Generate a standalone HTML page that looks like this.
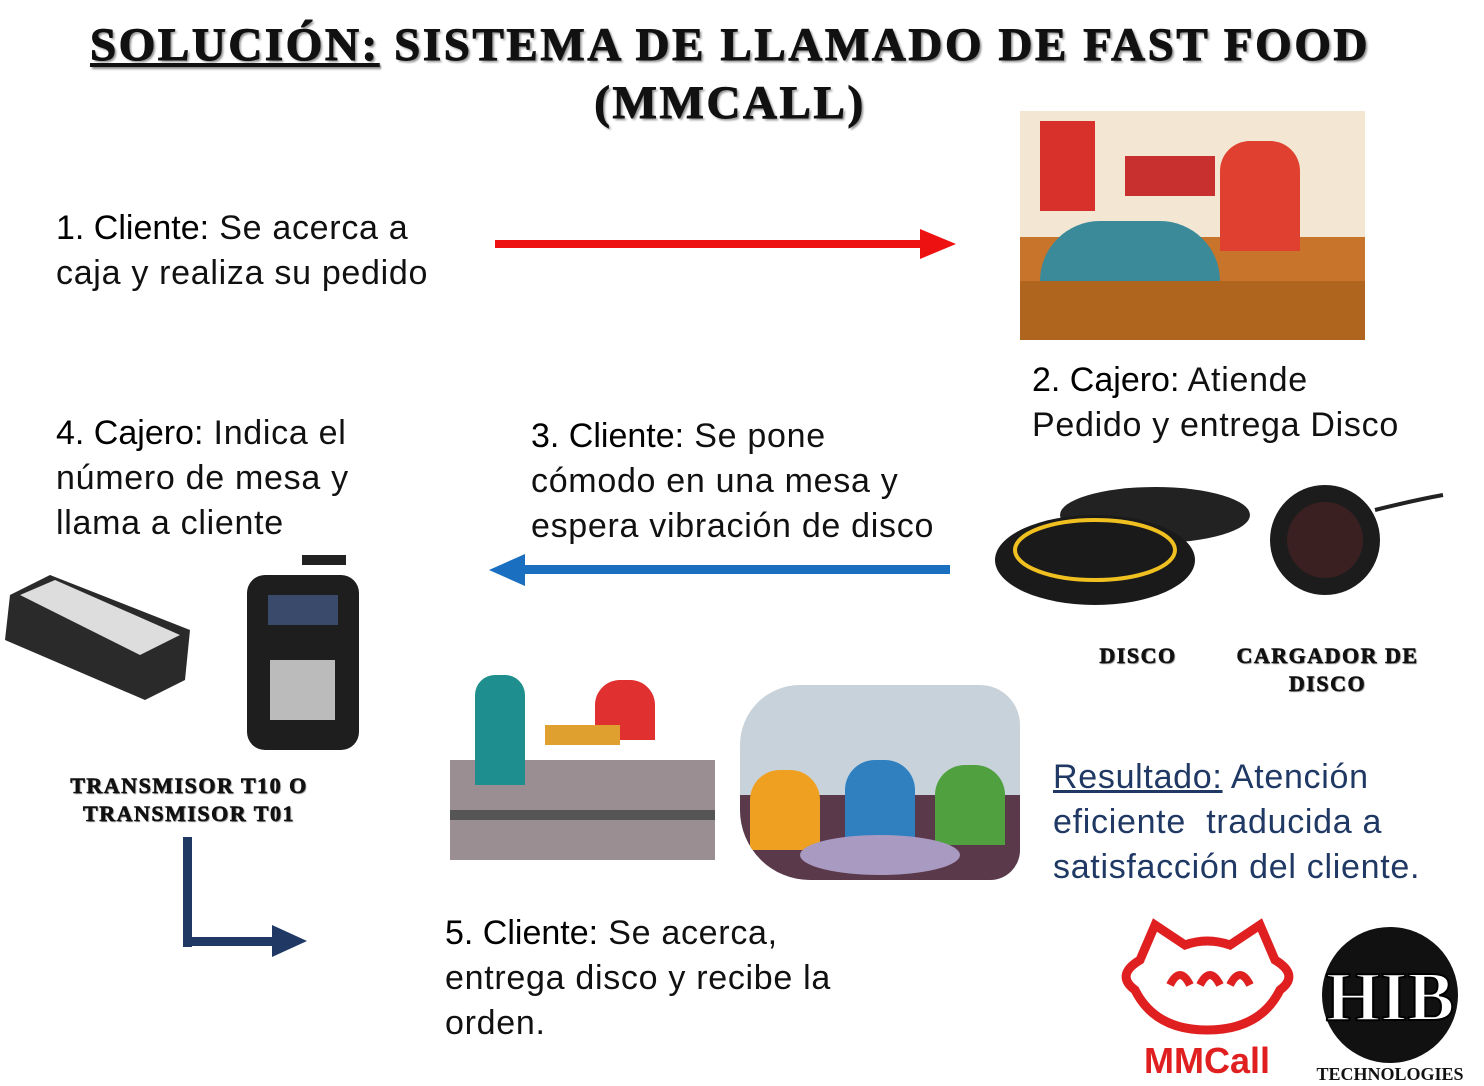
<!DOCTYPE html>
<html><head><meta charset="utf-8">
<style>
body{margin:0;width:1484px;height:1086px;background:#fff;position:relative;overflow:hidden;font-family:"Liberation Sans",sans-serif;}
.a{position:absolute;}
.title{font-family:"Liberation Serif",serif;font-weight:bold;font-size:47px;color:#111;text-shadow:2px 2px 2px #888;letter-spacing:2.6px;line-height:58px;text-align:center;-webkit-text-stroke:1px #111;}
.t{font-size:34px;letter-spacing:0.7px;color:#111;line-height:45px;white-space:nowrap;}
.t b{font-weight:normal;color:#000;letter-spacing:0;}
.lab{font-family:"Liberation Serif",serif;font-weight:bold;font-size:22px;letter-spacing:1.5px;color:#111;text-shadow:1px 1px 1px #777;text-align:center;line-height:28px;-webkit-text-stroke:0.6px #111;}
</style></head><body>
<div class="a title" style="left:30px;top:16px;width:1400px;"><span style="text-decoration:underline">SOLUCIÓN:</span> SISTEMA DE LLAMADO DE FAST FOOD<br>(MMCALL)</div>

<div class="a t" style="left:56px;top:206px;"><b>1. Cliente:</b> Se acerca a<br>caja y realiza su pedido</div>
<svg class="a" style="left:490px;top:225px" width="470" height="40"><rect x="5" y="15" width="425" height="8" fill="#ee1111"/><polygon points="430,4 466,19 430,34" fill="#ee1111"/></svg>

<div class="a" style="left:1020px;top:111px;width:345px;height:229px;background:linear-gradient(#f3e6d2 0 55%,#c8742a 55% 100%);overflow:hidden">
 <div class="a" style="left:20px;top:10px;width:55px;height:90px;background:#d8302a"></div>
 <div class="a" style="left:105px;top:45px;width:90px;height:40px;background:#c83030"></div>
 <div class="a" style="left:200px;top:30px;width:80px;height:110px;background:#e04030;border-radius:30px 30px 0 0"></div>
 <div class="a" style="left:20px;top:110px;width:180px;height:119px;background:#3a8a9a;border-radius:60px 60px 0 0"></div>
 <div class="a" style="left:0px;top:170px;width:345px;height:59px;background:#b0651f"></div>
</div>
<div class="a t" style="left:1032px;top:358px;"><b>2. Cajero:</b> Atiende<br>Pedido y entrega Disco</div>

<div class="a t" style="left:56px;top:411px;"><b>4. Cajero:</b> Indica el<br>número de mesa y<br>llama a cliente</div>
<div class="a t" style="left:531px;top:414px;"><b>3. Cliente:</b> Se pone<br>cómodo en una mesa y<br>espera vibración de disco</div>
<svg class="a" style="left:485px;top:550px" width="470" height="40"><polygon points="4,20 40,4 40,36" fill="#1a6fc0"/><rect x="38" y="15" width="427" height="9" fill="#1a6fc0"/></svg>

<svg class="a" style="left:995px;top:480px" width="450" height="140">
 <ellipse cx="160" cy="35" rx="95" ry="28" fill="#222"/>
 <ellipse cx="100" cy="80" rx="100" ry="45" fill="#1a1a1a"/>
 <ellipse cx="100" cy="70" rx="80" ry="30" fill="none" stroke="#f0c020" stroke-width="4"/>
 <ellipse cx="330" cy="60" rx="55" ry="55" fill="#1c1c1c"/>
 <ellipse cx="330" cy="60" rx="38" ry="38" fill="#3a2020"/>
 <path d="M380 30 Q420 20 448 15" stroke="#222" stroke-width="4" fill="none"/>
</svg>
<div class="a lab" style="left:1080px;top:642px;width:116px;">DISCO</div>
<div class="a lab" style="left:1220px;top:642px;width:215px;">CARGADOR DE<br>DISCO</div>

<svg class="a" style="left:0;top:550px" width="365" height="205">
 <polygon points="10,45 50,25 190,80 185,130 145,150 5,90" fill="#2a2a2a"/>
 <polygon points="20,45 55,30 180,85 140,105" fill="#ddd"/>
 <rect x="247" y="25" width="112" height="175" rx="18" fill="#1e1e1e"/>
 <rect x="268" y="45" width="70" height="30" fill="#3a4a6a"/>
 <rect x="270" y="110" width="65" height="60" fill="#bbb"/>
 <rect x="302" y="5" width="44" height="10" fill="#222"/>
</svg>
<div class="a lab" style="left:40px;top:772px;width:298px;">TRANSMISOR T10 O<br>TRANSMISOR T01</div>
<svg class="a" style="left:180px;top:835px" width="130" height="125"><rect x="3" y="2" width="9" height="110" fill="#1f3864"/><rect x="3" y="102" width="90" height="9" fill="#1f3864"/><polygon points="92,90 127,106 92,122" fill="#1f3864"/></svg>

<div class="a" style="left:445px;top:635px;width:275px;height:235px;background:#fff;">
 <div class="a" style="left:5px;top:125px;width:265px;height:100px;background:#9a8e92"></div>
 <div class="a" style="left:5px;top:175px;width:265px;height:10px;background:#555"></div>
 <div class="a" style="left:30px;top:40px;width:50px;height:110px;background:#1e8e8e;border-radius:20px 20px 0 0"></div>
 <div class="a" style="left:150px;top:45px;width:60px;height:60px;background:#e03030;border-radius:25px 25px 0 0"></div>
 <div class="a" style="left:100px;top:90px;width:75px;height:20px;background:#e0a030"></div>
</div>
<div class="a" style="left:740px;top:685px;width:280px;height:195px;background:#c8d2da;border-radius:60px 40px 30px 70px;overflow:hidden">
 <div class="a" style="left:0;top:110px;width:280px;height:85px;background:#5a3a4a"></div>
 <div class="a" style="left:10px;top:85px;width:70px;height:80px;background:#f0a020;border-radius:30px 30px 0 0"></div>
 <div class="a" style="left:105px;top:75px;width:70px;height:80px;background:#3080c0;border-radius:30px 30px 0 0"></div>
 <div class="a" style="left:195px;top:80px;width:70px;height:80px;background:#50a040;border-radius:30px 30px 0 0"></div>
 <div class="a" style="left:60px;top:150px;width:160px;height:40px;background:#a89ac0;border-radius:50%"></div>
</div>

<div class="a t" style="left:1053px;top:755px;color:#1f3864"><span style="text-decoration:underline">Resultado:</span> Atención<br>eficiente &nbsp;traducida a<br>satisfacción del cliente.</div>

<div class="a t" style="left:445px;top:911px;"><b>5. Cliente:</b> Se acerca,<br>entrega disco y recibe la<br>orden.</div>

<svg class="a" style="left:1110px;top:915px" width="195" height="165">
 <path d="M30 45 L45 10 L75 30 Q97 22 120 30 L150 10 L165 45 Q190 60 170 75 Q150 115 97 115 Q45 115 25 75 Q5 60 30 45Z" fill="none" stroke="#e02020" stroke-width="9"/>
 <path d="M60 70 Q70 50 80 70 M90 70 Q100 50 110 70 M120 70 Q130 50 140 70" stroke="#e02020" stroke-width="8" fill="none"/>
 <text x="97" y="158" text-anchor="middle" font-family="Liberation Sans" font-weight="bold" font-size="36" fill="#e02020">MMCall</text>
</svg>
<svg class="a" style="left:1300px;top:925px" width="180" height="160">
 <circle cx="90" cy="70" r="68" fill="#111"/>
 <text x="90" y="95" text-anchor="middle" font-family="Liberation Serif" font-weight="bold" font-size="70" fill="#fff" stroke="#000" stroke-width="2">HIB</text>
 <text x="90" y="155" text-anchor="middle" font-family="Liberation Serif" font-weight="bold" font-size="18" fill="#111">TECHNOLOGIES</text>
</svg>
</body></html>
